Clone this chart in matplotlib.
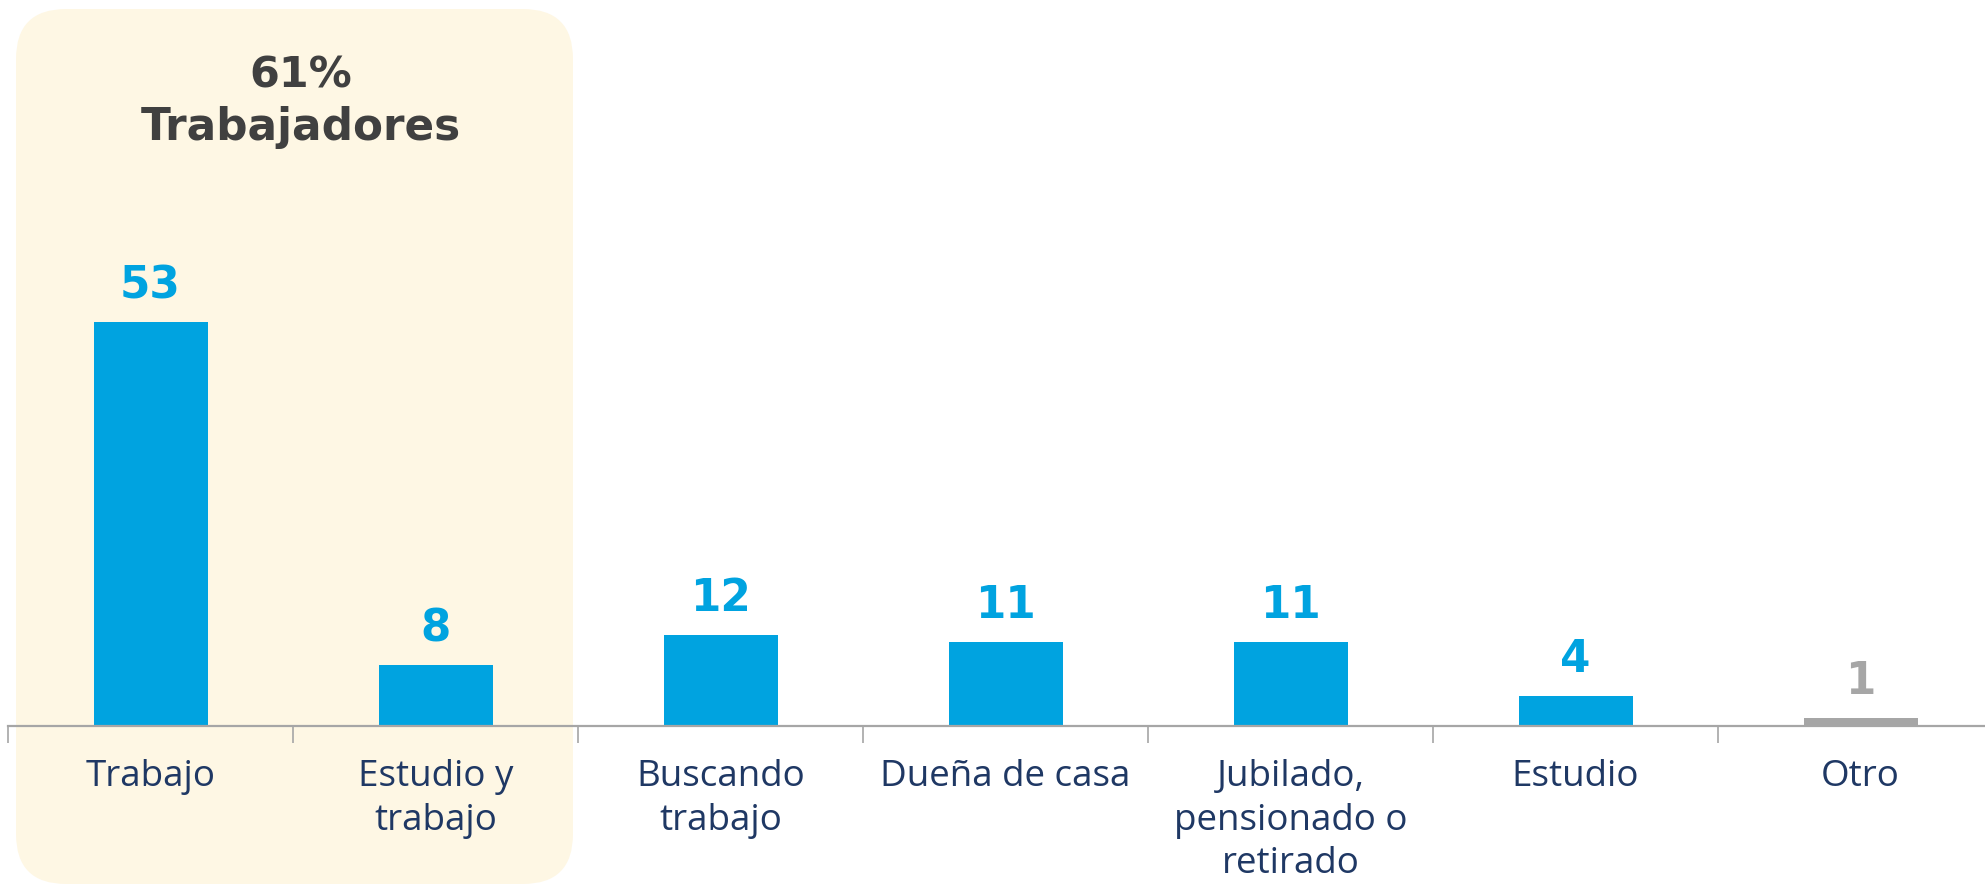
import matplotlib
matplotlib.use("Agg")
import matplotlib.pyplot as plt
from matplotlib.patches import FancyBboxPatch
from matplotlib.transforms import IdentityTransform

categories = ["Trabajo", "Estudio y\ntrabajo", "Buscando\ntrabajo", "Dueña de casa",
              "Jubilado,\npensionado o\nretirado", "Estudio", "Otro"]
values = [53, 8, 12, 11, 11, 4, 1]
bar_colors = ["#00A3E0"] * 6 + ["#A6A6A6"]
label_colors = ["#00A3E0"] * 6 + ["#A6A6A6"]
highlight_pct = "61%"
highlight_text = "Trabajadores"

W, H, DPI = 1985, 887, 100
fig = plt.figure(figsize=(W / DPI, H / DPI), dpi=DPI)
fig.patch.set_facecolor("white")

# highlight box (pixel coords, origin bottom-left)
box = FancyBboxPatch((16, 2), 557, 875, boxstyle="round,pad=0,rounding_size=50",
                     transform=IdentityTransform(), facecolor="#FEF7E4",
                     edgecolor="none", zorder=0)
fig.add_artist(box)

axis_y = 727
px_per_unit = 7.62
left_px = 8
cat_w = 285
ax = fig.add_axes([left_px / W, (H - axis_y) / H, 7 * cat_w / W, axis_y / H])
ax.set_zorder(1)
ax.patch.set_alpha(0)
ax.set_xlim(-0.5, 6.5)
ax.set_ylim(0, axis_y / px_per_unit)

x = list(range(len(categories)))
ax.bar(x, values, width=0.4, color=bar_colors, zorder=2)

for xi, v, c in zip(x, values, label_colors):
    ax.annotate(f"{v}", (xi, v), xytext=(0, 18), textcoords="offset points",
                ha="center", va="baseline", fontsize=31.5, fontweight="bold",
                color=c, family="DejaVu Sans")

for s in ["top", "right", "left"]:
    ax.spines[s].set_visible(False)
ax.spines["bottom"].set_color("#A6A6A6")
ax.spines["bottom"].set_linewidth(1.6)
ax.set_yticks([])
ax.set_xticks(x)
ax.set_xticklabels(categories, fontsize=26.5, color="#1F3864", family="Open Sans",
                   linespacing=1.28, va="top")
ax.tick_params(axis="x", which="major", length=0, pad=23)
ax.set_xticks([i - 0.5 for i in range(len(categories) + 1)], minor=True)
ax.tick_params(axis="x", which="minor", length=12, width=1.2, color="#A6A6A6")

fig.text(301 / W, (H - 88) / H, highlight_pct, ha="center", va="baseline",
         fontsize=31, fontweight="bold", color="#404040", family="DejaVu Sans")
fig.text(301 / W, (H - 140) / H, highlight_text, ha="center", va="baseline",
         fontsize=31.5, fontweight="bold", color="#404040", family="DejaVu Sans")

fig.savefig("out.png", dpi=DPI)
